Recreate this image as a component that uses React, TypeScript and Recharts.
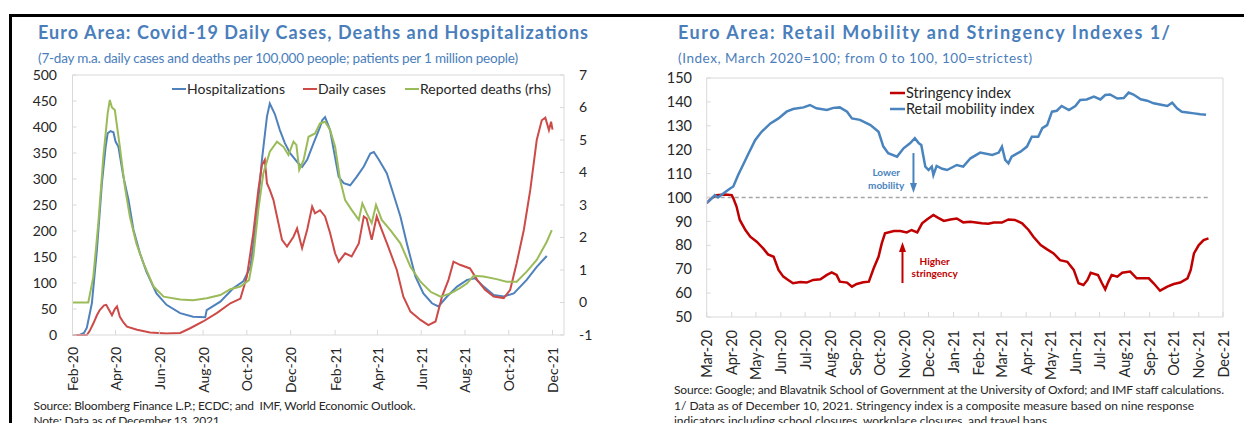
import React from 'react';
import { LineChart, Line, XAxis, YAxis, ReferenceLine, ReferenceDot } from 'recharts';

const FONT = 'Lato, "Open Sans", sans-serif';
const TITLE_BLUE = '#4A7EBB';
const GRID = '#d9d9d9';
const TEXT = '#262626';

// ---------------- Left chart data (days since 1 Feb 2020) ----------------
const LEFT_TICK_DAYS = [0, 60, 121, 182, 243, 304, 366, 425, 486, 547, 608, 669];
const LEFT_TICK_LABELS = ['Feb-20', 'Apr-20', 'Jun-20', 'Aug-20', 'Oct-20', 'Dec-20', 'Feb-21', 'Apr-21', 'Jun-21', 'Aug-21', 'Oct-21', 'Dec-21'];
const LEFT_Y_TICKS = [0, 50, 100, 150, 200, 250, 300, 350, 400, 450, 500];
const RIGHT_AXIS_TICKS = [-1, 0, 1, 2, 3, 4, 5, 6, 7];
const LEFT_SERIES_NAMES = ['Hospitalizations', 'Daily cases', 'Reported deaths (rhs)'];
const LEFT_SERIES_COLORS = ['#4F81BD', '#CC4B48', '#9BBB59'];

const hospitalizations: [number, number][] = [
  [0, 0], [10, 0], [16, 4], [20, 14], [27, 61], [34, 163], [41, 292], [46, 360], [49, 388], [53, 392], [57, 390],
  [60, 372], [64, 362], [71, 304], [78, 260], [85, 202], [94, 157], [103, 122], [117, 80], [131, 58], [150, 42],
  [168, 35], [185, 34], [187, 48], [206, 64], [224, 90], [238, 103], [248, 131], [257, 228], [264, 337], [271, 420],
  [275, 445], [282, 425], [289, 394], [296, 369], [303, 350], [313, 333], [320, 323], [327, 337], [336, 369],
  [345, 400], [348, 413], [352, 419], [359, 394], [364, 356], [371, 304], [378, 292], [387, 288], [396, 304],
  [406, 324], [415, 349], [420, 352], [427, 337], [438, 311], [447, 272], [457, 228], [466, 176], [478, 112],
  [489, 80], [501, 61], [510, 55], [522, 74], [536, 93], [550, 106], [561, 109], [573, 93], [587, 77], [601, 74],
  [615, 80], [633, 106], [647, 131], [661, 152],
];

const dailyCases: [number, number][] = [
  [0, 0], [20, 0], [24, 8], [29, 22], [34, 38], [38, 48], [44, 57], [47, 58], [51, 48], [55, 38], [59, 50], [62, 55],
  [66, 35], [71, 24], [76, 16], [90, 10], [108, 5], [131, 3], [150, 4], [164, 13], [182, 26], [201, 42], [220, 61],
  [234, 70], [243, 112], [252, 196], [259, 279], [264, 327], [268, 337], [271, 292], [275, 279], [280, 260],
  [285, 228], [292, 183], [299, 170], [308, 189], [313, 205], [320, 167], [327, 202], [334, 247], [338, 234],
  [345, 240], [352, 228], [359, 196], [366, 157], [371, 141], [380, 157], [389, 151], [399, 176], [406, 228],
  [410, 224], [417, 183], [424, 228], [431, 202], [440, 170], [452, 125], [461, 74], [471, 45], [485, 29],
  [496, 19], [506, 26], [515, 74], [524, 106], [531, 141], [540, 135], [554, 128], [564, 106], [575, 87],
  [587, 74], [601, 71], [610, 87], [619, 138], [629, 202], [638, 279], [647, 375], [654, 413], [659, 418],
  [664, 394], [667, 410], [669, 395],
];

const reportedDeaths: [number, number][] = [
  [0, 0], [22, 0], [29, 0.79], [36, 2.44], [43, 4.49], [49, 5.82], [52, 6.23], [55, 6.0], [59, 5.92], [66, 4.79],
  [73, 3.56], [80, 2.64], [89, 1.82], [99, 1.2], [113, 0.49], [127, 0.18], [150, 0.09], [168, 0.07], [187, 0.13],
  [206, 0.23], [220, 0.41], [234, 0.49], [246, 0.69], [252, 1.41], [259, 2.85], [266, 3.98], [275, 4.64],
  [285, 4.95], [294, 4.79], [301, 4.54], [308, 4.95], [312, 4.85], [316, 4.08], [322, 4.38], [329, 5.1],
  [338, 5.2], [345, 5.51], [352, 5.56], [359, 5.31], [366, 4.79], [373, 3.77], [380, 3.15], [389, 2.85],
  [399, 2.54], [404, 3.05], [410, 2.75], [417, 2.44], [423, 3.0], [431, 2.54], [443, 2.23], [457, 1.82],
  [471, 1.1], [485, 0.64], [499, 0.33], [513, 0.18], [527, 0.28], [540, 0.44], [550, 0.59], [559, 0.82],
  [573, 0.8], [591, 0.72], [605, 0.64], [619, 0.64], [633, 0.95], [647, 1.31], [661, 1.87], [668, 2.23],
];

// ---------------- Right chart data (days since 1 Mar 2020) ----------------
const RIGHT_TICK_DAYS = [0, 31, 61, 92, 122, 153, 184, 214, 245, 275, 306, 337, 365, 396, 426, 457, 487, 518, 549, 579, 610, 640];
const RIGHT_TICK_LABELS = ['Mar-20', 'Apr-20', 'May-20', 'Jun-20', 'Jul-20', 'Aug-20', 'Sep-20', 'Oct-20', 'Nov-20', 'Dec-20', 'Jan-21', 'Feb-21', 'Mar-21', 'Apr-21', 'May-21', 'Jun-21', 'Jul-21', 'Aug-21', 'Sep-21', 'Oct-21', 'Nov-21', 'Dec-21'];
const INDEX_TICKS = [50, 60, 70, 80, 90, 100, 110, 120, 130, 140, 150];
const RIGHT_SERIES_NAMES = ['Stringency index', 'Retail mobility index'];
const RIGHT_SERIES_COLORS = ['#C00000', '#4A84BE'];
const BASELINE_VALUE = 100;
const BASELINE_END_DAY = 622;

const stringency: [number, number][] = [
  [0, 97.6], [6, 99.7], [12, 101], [23, 101.3], [31, 101], [33, 99.7], [37, 96.2], [41, 90.6], [48, 86.4],
  [54, 83.6], [62, 81.5], [70, 78.7], [76, 76.2], [83, 75.2], [89, 69.7], [95, 66.9], [101, 65.5], [107, 64.1],
  [116, 64.6], [124, 64.4], [132, 65.5], [141, 65.8], [149, 67.6], [155, 68.7], [161, 67.6], [165, 64.8],
  [174, 64.4], [180, 62.7], [186, 63.8], [194, 64.5], [201, 64.8], [207, 70.4], [213, 75.2], [217, 80.8],
  [221, 85], [232, 86], [240, 86], [248, 85.4], [254, 86.4], [261, 85.4], [267, 89.2], [273, 90.8], [281, 92.7],
  [287, 91.5], [294, 90.2], [302, 90.8], [310, 91.2], [318, 89.6], [327, 89.9], [341, 89.2], [349, 89],
  [356, 89.5], [366, 89.5], [374, 90.8], [382, 90.6], [391, 89.2], [399, 86.4], [405, 83.6], [414, 80.1],
  [422, 78.3], [430, 76.6], [438, 73.8], [447, 73.1], [455, 69.7], [461, 64.1], [467, 63.4], [472, 65.5],
  [476, 68.5], [485, 67.6], [490, 64.1], [494, 61.6], [498, 64.8], [502, 67.6], [509, 66.9], [515, 68.5],
  [525, 69], [533, 66.2], [541, 66.2], [548, 66.2], [554, 64.1], [562, 61], [571, 62.7], [579, 63.8],
  [587, 64.4], [596, 66.2], [600, 69.7], [604, 76.6], [610, 80.1], [616, 82.2], [622, 82.9],
];

const retailMobility: [number, number][] = [
  [0, 97.8], [6, 99.5], [10, 101], [14, 100], [21, 101.8], [29, 103.8], [33, 104.6], [39, 109.4], [45, 113.6],
  [52, 118.5], [60, 124], [68, 127.5], [79, 131], [89, 133.1], [99, 135.9], [107, 137], [120, 137.7],
  [128, 138.7], [136, 137.3], [149, 136.6], [157, 137.5], [165, 137.7], [174, 135.9], [180, 133.1], [190, 132.5],
  [203, 130.3], [213, 127.5], [219, 121.3], [225, 118.5], [236, 117.1], [244, 120.6], [252, 122.7], [258, 124.8],
  [263, 122.7], [266, 122], [271, 112.9], [275, 111.5], [279, 112.9], [281, 109.4], [285, 113.2], [292, 112],
  [298, 111.5], [310, 113.6], [318, 112.9], [327, 116.4], [339, 118.8], [354, 117.8], [362, 118.8], [366, 121.3],
  [370, 115.7], [374, 114.3], [378, 117.1], [389, 119.2], [397, 121.3], [403, 125.4], [411, 125.4], [416, 129],
  [422, 130.3], [428, 135.9], [434, 136.3], [440, 138.3], [449, 136.6], [457, 138.3], [463, 140.8], [471, 141],
  [480, 142.2], [488, 141], [494, 142.9], [500, 143.1], [509, 141.4], [517, 141.6], [523, 143.9], [529, 143.1],
  [538, 141.1], [546, 140.5], [554, 139.4], [565, 138.7], [571, 138.3], [577, 139.7], [583, 137.3], [589, 135.9],
  [596, 135.6], [604, 135.2], [612, 134.8], [619, 134.6],
];

const toRows = (pairs: [number, number][]) => pairs.map(([d, v]) => ({ d, v }));

function RotTick(props: any) {
  const { x, y, payload, days, labels, fontSize } = props;
  const idx = days.indexOf(payload.value);
  return (
    <text x={x} y={y} transform={`rotate(-90 ${x} ${y})`} textAnchor="end" dominantBaseline="central"
      fontSize={fontSize} fill={TEXT} fontFamily={FONT}>
      {idx >= 0 ? labels[idx] : ''}
    </text>
  );
}

const arrowShape = (color: string) => (p: any) => {
  const { x1, y1, x2, y2 } = p;
  const dir = y2 > y1 ? 1 : -1;
  const head = 10;
  const hw = 3.5;
  return (
    <g>
      <line x1={x1} y1={y1} x2={x2} y2={y2 - dir * head + dir} stroke={color} strokeWidth={2} />
      <polygon points={`${x2},${y2} ${x2 - hw},${y2 - dir * head} ${x2 + hw},${y2 - dir * head}`} fill={color} />
    </g>
  );
};

const noteShape = (lines: string[], color: string) => (p: any) => (
  <text x={p.cx} y={p.cy} textAnchor="middle" fill={color} fontSize={10} fontWeight={700} fontFamily={FONT}>
    {lines.map((l, i) => (
      <tspan key={i} x={p.cx} dy={i === 0 ? 0 : 12.3}>{l}</tspan>
    ))}
  </text>
);

const yTick = { fontSize: 14, fill: TEXT, fontFamily: FONT };

function LeftChart() {
  const series = [hospitalizations, dailyCases, reportedDeaths];
  return (
    <LineChart width={620} height={423} margin={{ top: 75, right: 16, bottom: 33, left: 12.5 }}>
      <XAxis type="number" dataKey="d" domain={[0, 685]} ticks={LEFT_TICK_DAYS} interval={0} allowDataOverflow
        tick={(p: any) => <RotTick {...p} days={LEFT_TICK_DAYS} labels={LEFT_TICK_LABELS} fontSize={14} />}
        tickSize={-5} tickMargin={17} height={55} axisLine={{ stroke: GRID }} tickLine={{ stroke: GRID }} />
      <YAxis yAxisId="l" type="number" domain={[0, 500]} ticks={LEFT_Y_TICKS} interval={0} width={60}
        tick={yTick} tickSize={-4} tickMargin={19.5} axisLine={{ stroke: GRID }} tickLine={{ stroke: GRID }} />
      <YAxis yAxisId="r" orientation="right" type="number" domain={[-1, 7]} ticks={RIGHT_AXIS_TICKS} interval={0} width={40}
        tick={yTick} tickSize={-4} tickMargin={19} axisLine={{ stroke: GRID }} tickLine={{ stroke: GRID }} />
      <ReferenceLine yAxisId="l" y={500} stroke={GRID} />
      {series.map((s, i) => (
        <Line key={LEFT_SERIES_NAMES[i]} yAxisId={i === 2 ? 'r' : 'l'} data={toRows(s)} dataKey="v" name={LEFT_SERIES_NAMES[i]}
          type="linear" stroke={LEFT_SERIES_COLORS[i]} strokeWidth={2} dot={false} isAnimationActive={false} />
      ))}
    </LineChart>
  );
}

function RightChart() {
  const series = [stringency, retailMobility];
  return (
    <LineChart width={624} height={423} margin={{ top: 78, right: 21, bottom: 46, left: 26.7 }}>
      <XAxis type="number" dataKey="d" domain={[0, 640]} ticks={RIGHT_TICK_DAYS} interval={0} allowDataOverflow
        tick={(p: any) => <RotTick {...p} days={RIGHT_TICK_DAYS} labels={RIGHT_TICK_LABELS} fontSize={14.5} />}
        tickSize={-5} tickMargin={18} height={60} axisLine={{ stroke: GRID }} tickLine={{ stroke: GRID }} />
      <YAxis type="number" domain={[50, 150]} ticks={INDEX_TICKS} interval={0} width={60}
        tick={{ ...yTick, fontSize: 14.5 }} tickSize={-4} tickMargin={18.7} axisLine={{ stroke: GRID }} tickLine={{ stroke: GRID }} />
      <ReferenceLine y={150} stroke={GRID} />
      <ReferenceLine x={640} stroke={GRID} />
      <ReferenceLine segment={[{ x: 0, y: BASELINE_VALUE }, { x: BASELINE_END_DAY, y: BASELINE_VALUE }]}
        stroke="#a6a6a6" strokeWidth={1.5} strokeDasharray="4 3" />
      {series.map((s, i) => (
        <Line key={RIGHT_SERIES_NAMES[i]} data={toRows(s)} dataKey="v" name={RIGHT_SERIES_NAMES[i]}
          type="linear" stroke={RIGHT_SERIES_COLORS[i]} strokeWidth={2.5} dot={false} isAnimationActive={false} />
      ))}
      <ReferenceLine segment={[{ x: 256.3, y: 118.6 }, { x: 256.3, y: 101.9 }]} shape={arrowShape('#4A84BE')} />
      <ReferenceLine segment={[{ x: 242.7, y: 64.2 }, { x: 242.7, y: 81.4 }]} shape={arrowShape('#C00000')} />
      <ReferenceDot x={222.5} y={108.9} r={0} shape={noteShape(['Lower', 'mobility'], '#4A84BE')} />
      <ReferenceDot x={282.6} y={71.7} r={0} shape={noteShape(['Higher', 'stringency'], '#C00000')} />
    </LineChart>
  );
}

export default function App() {
  return (
    <div style={{ position: 'fixed', left: 0, top: 0, width: 1244, height: 423, background: '#fff', overflow: 'hidden', fontFamily: FONT }}>
      <div style={{ position: 'absolute', left: 0, top: 0 }}><LeftChart /></div>
      <div style={{ position: 'absolute', left: 620, top: 0 }}><RightChart /></div>
      <div style={{ position: 'absolute', left: 9, top: 14, width: 1235, height: 2.5, background: '#000' }} />
      <div style={{ position: 'absolute', left: 9, top: 14, width: 2.5, height: 409, background: '#000' }} />
      <svg width={1244} height={423} style={{ position: 'absolute', left: 0, top: 0, pointerEvents: 'none' }} fontFamily={FONT}>
        <text x={38} y={39.3} fontSize={18} fontWeight={700} fill={TITLE_BLUE} textLength={550} lengthAdjust="spacing">
          Euro Area: Covid-19 Daily Cases, Deaths and Hospitalizations
        </text>
        <text x={38} y={62.5} fontSize={13.5} fill={TITLE_BLUE} textLength={480} lengthAdjust="spacing">
          (7-day m.a. daily cases and deaths per 100,000 people; patients per 1 million people)
        </text>
        <text x={678} y={39.3} fontSize={18} fontWeight={700} fill={TITLE_BLUE} textLength={492} lengthAdjust="spacing">
          Euro Area: Retail Mobility and Stringency Indexes 1/
        </text>
        <text x={678} y={63} fontSize={13.5} fill={TITLE_BLUE} textLength={354} lengthAdjust="spacing">
          (Index, March 2020=100; from 0 to 100, 100=strictest)
        </text>

        {/* left legend */}
        {[172, 303, 405].map((lx, i) => (
          <g key={LEFT_SERIES_NAMES[i]}>
            <line x1={lx} y1={89} x2={lx + 14} y2={89} stroke={LEFT_SERIES_COLORS[i]} strokeWidth={2} />
            <text x={lx + 15} y={94} fontSize={14} fill={TEXT}>{LEFT_SERIES_NAMES[i]}</text>
          </g>
        ))}
        {/* right legend */}
        {[93, 109].map((ly, i) => (
          <g key={RIGHT_SERIES_NAMES[i]}>
            <line x1={890} y1={ly} x2={905} y2={ly} stroke={RIGHT_SERIES_COLORS[i]} strokeWidth={2.5} />
            <text x={906} y={ly + 5} fontSize={14.5} fill={TEXT}>{RIGHT_SERIES_NAMES[i]}</text>
          </g>
        ))}

        <text x={33.6} y={410} fontSize={12} fill={TEXT} textLength={382} lengthAdjust="spacing">
          {'Source: Bloomberg Finance L.P.; ECDC; and\u00a0 IMF, World Economic Outlook.'}
        </text>
        <text x={33.6} y={425} fontSize={12} fill={TEXT} textLength={186} lengthAdjust="spacing">
          Note: Data as of December 13, 2021
        </text>
        <text x={674} y={393.5} fontSize={12} fill={TEXT} textLength={550} lengthAdjust="spacing">
          Source: Google; and Blavatnik School of Government at the University of Oxford; and IMF staff calculations.
        </text>
        <text x={674} y={410} fontSize={12} fill={TEXT} textLength={520} lengthAdjust="spacing">
          1/ Data as of December 10, 2021. Stringency index is a composite measure based on nine response
        </text>
        <text x={674} y={425} fontSize={12} fill={TEXT} textLength={376} lengthAdjust="spacing">
          indicators including school closures, workplace closures, and travel bans.
        </text>
      </svg>
    </div>
  );
}
